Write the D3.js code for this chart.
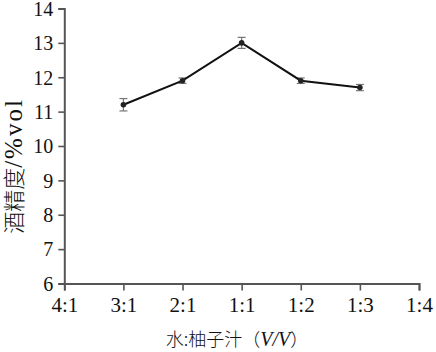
<!DOCTYPE html>
<html><head><meta charset="utf-8">
<script src="https://cdn.jsdelivr.net/npm/d3@7"></script>
<style>body{margin:0;background:#fff}svg{display:block}</style>
</head><body>
<script>
const categories = ["4:1","3:1","2:1","1:1","1:2","1:3","1:4"];
const dataCats = ["3:1","2:1","1:1","1:2","1:3"];
const values = [11.2, 11.9, 13.0, 11.9, 11.7];
const errors = [0.18, 0.08, 0.16, 0.08, 0.09];
const yTicks = [6,7,8,9,10,11,12,13,14];

const W=436,H=352;
const serif="'Liberation Serif', 'Times New Roman', serif";
const cjk="'Noto Sans CJK SC', sans-serif";
const svg=d3.select("body").append("svg").attr("width",W).attr("height",H);
const x=d3.scalePoint().domain(categories).range([64.3,419]);
const y=d3.scaleLinear().domain([6,14]).range([283.5,8.5]);
const axisColor="#555";

const gx=svg.append("g").attr("transform","translate(0,283.5)")
  .call(d3.axisBottom(x).tickSize(7).tickPadding(7));
const gy=svg.append("g").attr("transform","translate(64.3,0)")
  .call(d3.axisLeft(y).tickValues(yTicks).tickSize(6).tickPadding(5).tickFormat(d3.format("d")));
[gx,gy].forEach(g=>{
  g.attr("font-family",null);
  g.select(".domain").attr("stroke",axisColor).attr("stroke-width",2);
  g.selectAll(".tick line").attr("stroke",axisColor).attr("stroke-width",1.6);
  g.selectAll(".tick text").attr("fill","#111").style("font-family",serif);
});
gx.selectAll(".tick text").style("font-size","21px");
gy.selectAll(".tick text").style("font-size","20px").attr("dy","0.34em");

const pts=dataCats.map((c,i)=>({c,v:values[i],e:errors[i]}));
const eb=svg.append("g").attr("stroke","#777").attr("stroke-width",1.2);
pts.forEach(p=>{
  const cx=x(p.c);
  eb.append("line").attr("x1",cx).attr("x2",cx).attr("y1",y(p.v+p.e)).attr("y2",y(p.v-p.e));
  eb.append("line").attr("x1",cx-4).attr("x2",cx+4).attr("y1",y(p.v+p.e)).attr("y2",y(p.v+p.e));
  eb.append("line").attr("x1",cx-4).attr("x2",cx+4).attr("y1",y(p.v-p.e)).attr("y2",y(p.v-p.e));
});
svg.append("path").datum(pts)
  .attr("d",d3.line().x(d=>x(d.c)).y(d=>y(d.v)))
  .attr("fill","none").attr("stroke","#111").attr("stroke-width",2);
svg.append("g").selectAll("circle").data(pts).join("circle")
  .attr("cx",d=>x(d.c)).attr("cy",d=>y(d.v)).attr("r",2.8).attr("fill","#222");

// y label
const yl=svg.append("text").attr("transform","translate(22,166) rotate(-90)")
  .attr("text-anchor","middle").attr("fill","#111");
yl.append("tspan").style("font-family",cjk).style("font-size","22px").style("font-weight","300").text("酒精度");
yl.append("tspan").style("font-family",serif).style("font-size","25px").style("letter-spacing","2px").text("/%vol");

// x label
const xl=svg.append("text").attr("x",237).attr("y",346).attr("text-anchor","middle").attr("fill","#111");
xl.append("tspan").style("font-family",cjk).style("font-size","18px").style("font-weight","300").text("水:柚子汁（");
xl.append("tspan").style("font-family",serif).style("font-style","italic").style("font-size","20px").text("V/V");
xl.append("tspan").style("font-family",cjk).style("font-size","18px").style("font-weight","300").text("）");
</script>
</body></html>
